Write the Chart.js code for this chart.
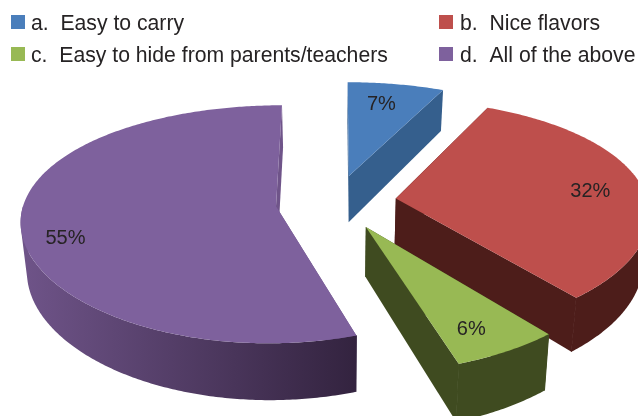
<!DOCTYPE html>
<html>
<head>
<meta charset="utf-8">
<style>html,body{margin:0;padding:0;background:#fff}#box{width:638px;height:416px;position:relative}</style>
<script src="https://cdn.jsdelivr.net/npm/chart.js@4/dist/chart.umd.min.js"></script>
</head>
<body>
<div id="box"><canvas id="c" width="638" height="416"></canvas></div>
<script>
const categories = ['a.  Easy to carry', 'b.  Nice flavors', 'c.  Easy to hide from parents/teachers', 'd.  All of the above'];
const values = [7, 32, 6, 55];
const faceColors = ['#4a7ebb', '#be4f4c', '#98b954', '#7e619d'];
const wallFrom = ['#355f8d', '#4d1d1a', '#3f4b20', '#6f5489'];
const wallTo = ['#355f8d', '#4d1d1a', '#3f4b20', '#33233f'];

// view of the tilted pie
const view = { vx: 336, cy: 202, rx: 252, ry: 115, perspX: 0.11, perspY: 0.15, depth: 48, shrink: 0.02, explode: 0.24, labelAt: 0.8 };
const labelNudge = [[-6, 4], [-2, 4], [-5, 6], [-7, 17]];
const FONT = '20px "Liberation Sans", Arial, sans-serif';
const LEGEND_FONT = '21.2px "Liberation Sans", Arial, sans-serif';
const INK = '#262324';

function project(ux, uy, z) {
  const sx = 1 / (1 - view.perspX * uy), sy = 1 / (1 - view.perspY * uy);
  return { x: view.vx + view.rx * ux * sx * (1 - view.shrink * z), y: view.cy + view.ry * uy * sy + view.depth * sy * z };
}
function poly(ctx, pts) {
  ctx.beginPath();
  pts.forEach((p, i) => i ? ctx.lineTo(p.x, p.y) : ctx.moveTo(p.x, p.y));
  ctx.closePath();
}
function signedArea(pts) {
  let a = 0;
  pts.forEach((p, i) => { const q = pts[(i + 1) % pts.length]; a += p.x * q.y - q.x * p.y; });
  return a;
}
function wedge(el) {
  const mid = (el.startAngle + el.endAngle) / 2;
  const ox = Math.cos(mid) * view.explode, oy = Math.sin(mid) * view.explode;
  const arc = [], facing = [];
  const n = Math.ceil((el.endAngle - el.startAngle) * 90);
  for (let i = 0; i <= n; i++) {
    const a = el.startAngle + (el.endAngle - el.startAngle) * i / n;
    arc.push([ox + Math.cos(a), oy + Math.sin(a)]);
    facing.push(Math.sin(a) >= 0);
  }
  return { mid, ox, oy, arc, facing };
}

const pie3d = {
  id: 'pie3d',
  beforeDatasetsDraw(chart) {
    const ctx = chart.ctx;
    const meta = chart.getDatasetMeta(0);
    const order = meta.data.map((el, i) => ({ el, i }))
      .sort((a, b) => Math.sin((a.el.startAngle + a.el.endAngle) / 2) - Math.sin((b.el.startAngle + b.el.endAngle) / 2));
    ctx.save();
    order.forEach(({ el, i }) => {
      const w = wedge(el);
      const top = w.arc.map(p => project(p[0], p[1], 0));
      const bot = w.arc.map(p => project(p[0], p[1], 1));
      const apexT = project(w.ox, w.oy, 0), apexB = project(w.ox, w.oy, 1);
      // cut walls
      [[top[0], bot[0]], [top[top.length - 1], bot[bot.length - 1]]].forEach(([t, b]) => {
        poly(ctx, [apexT, t, b, apexB]);
        ctx.fillStyle = wallFrom[i];
        ctx.fill();
      });
      // outer wall, only the part that faces the viewer: one path, every quad wound the same way
      const xs = top.concat(bot).map(p => p.x);
      const g = ctx.createLinearGradient(Math.min(...xs), 0, Math.max(...xs), 0);
      g.addColorStop(0, wallFrom[i]);
      g.addColorStop(1, wallTo[i]);
      ctx.fillStyle = g;
      ctx.beginPath();
      for (let k = 0; k < top.length - 1; k++) {
        if (!w.facing[k] || !w.facing[k + 1]) continue;
        let q = [top[k], top[k + 1], bot[k + 1], bot[k]];
        if (signedArea(q) < 0) q = q.reverse();
        q.forEach((p, j) => j ? ctx.lineTo(p.x, p.y) : ctx.moveTo(p.x, p.y));
        ctx.closePath();
      }
      ctx.fill('nonzero');
      // close the hairline where the cut wall meets the outer wall
      ctx.strokeStyle = g;
      ctx.lineWidth = 1;
      [[top[0], bot[0]], [top[top.length - 1], bot[bot.length - 1]]].forEach(([t, b], e) => {
        if (!w.facing[e ? top.length - 1 : 0]) return;
        ctx.beginPath();
        ctx.moveTo(t.x, t.y);
        ctx.lineTo(b.x, b.y);
        ctx.stroke();
      });
      // top face
      poly(ctx, [apexT].concat(top));
      ctx.fillStyle = el.options.backgroundColor;
      ctx.fill();
    });
    // percentage labels
    ctx.font = FONT;
    ctx.fillStyle = INK;
    ctx.textAlign = 'center';
    ctx.textBaseline = 'middle';
    meta.data.forEach((el, i) => {
      const w = wedge(el);
      const p = project(w.ox + Math.cos(w.mid) * view.labelAt, w.oy + Math.sin(w.mid) * view.labelAt, 0);
      ctx.fillText(values[i] + '%', p.x + labelNudge[i][0], p.y + labelNudge[i][1]);
    });
    ctx.restore();
    return false;
  },
  afterDraw(chart) {
    const ctx = chart.ctx;
    ctx.save();
    ctx.font = LEGEND_FONT;
    ctx.textAlign = 'left';
    ctx.textBaseline = 'alphabetic';
    categories.forEach((t, i) => {
      const x = i % 2 ? 439 : 11, y = i < 2 ? 15 : 47;
      ctx.fillStyle = faceColors[i];
      ctx.fillRect(x, y, 14, 14);
      ctx.fillStyle = INK;
      ctx.fillText(t, i % 2 ? 460 : 31, y + 14.5);
    });
    ctx.restore();
  }
};

new Chart(document.getElementById('c'), {
  type: 'pie',
  data: { labels: categories, datasets: [{ data: values, backgroundColor: faceColors, borderWidth: 0 }] },
  options: {
    responsive: false,
    animation: false,
    events: [],
    plugins: { legend: { display: false }, tooltip: { enabled: false } }
  },
  plugins: [pie3d]
});
</script>
</body>
</html>
